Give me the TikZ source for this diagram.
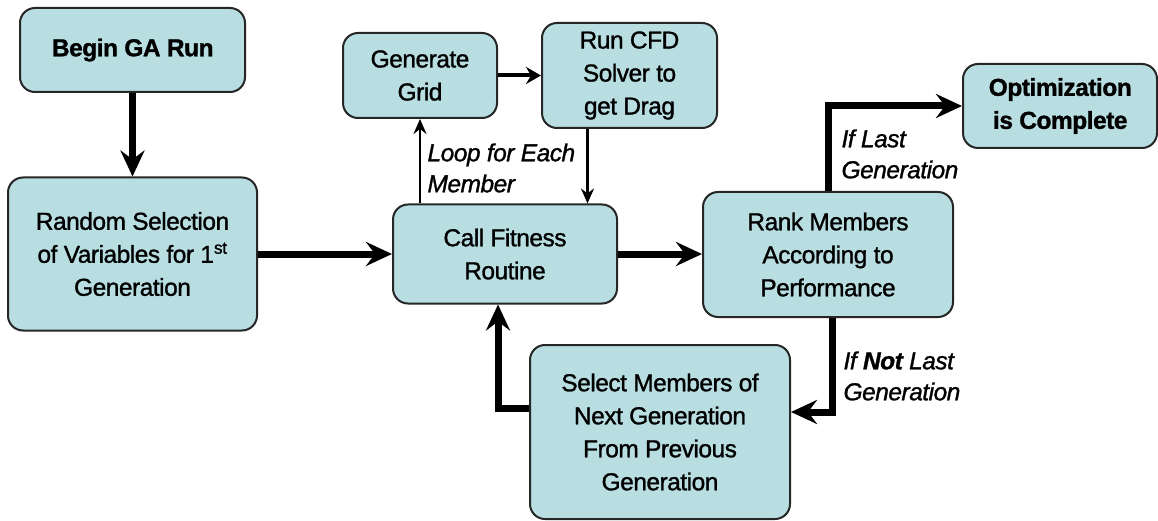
\documentclass[tikz,border=0pt]{standalone}
\usepackage{fontspec}
\setmainfont{Liberation Sans}[FakeBold=1.2, LetterSpace=-2]
\usepackage{xcolor}
\usetikzlibrary{arrows.meta,positioning,calc}

\definecolor{boxfill}{RGB}{184,222,226}

\begin{document}
\begin{tikzpicture}[x=1pt, y=-1pt,
  box/.style={draw=black!85, line width=2pt, rounded corners=15pt,
              fill=boxfill, align=center, inner sep=0pt,
              font=\fontsize{24.5}{33}\selectfont},
  arr/.style={-{Stealth[length=26pt, width=24pt, inset=9pt]}, line width=7pt},
  medarr/.style={-{Stealth[length=15pt, width=17pt, inset=5pt]}, line width=4pt},
  thinarr/.style={-{Stealth[length=15pt, width=13pt, inset=5pt]}, line width=2.5pt},
  lbl/.style={font=\fontsize{24.5}{31}\selectfont\itshape, align=left, anchor=west}
]

% canvas
\useasboundingbox[fill=white] (0,0) rectangle (1158,521);

% boxes
\node[box, minimum width=225pt, minimum height=84pt] (begin) at (132.5,50)
  {\textbf{Begin GA Run}};
\node[box, minimum width=249pt, minimum height=153pt] (random) at (132.5,254)
  {Random Selection\\of Variables for 1\textsuperscript{st}\\Generation};
\node[box, minimum width=154pt, minimum height=85pt] (grid) at (420,75.5)
  {Generate\\Grid};
\node[box, minimum width=175pt, minimum height=105pt] (cfd) at (629.5,75.5)
  {Run CFD\\Solver to\\get Drag};
\node[box, minimum width=224pt, minimum height=99pt] (call) at (505,254)
  {Call Fitness\\Routine};
\node[box, minimum width=250pt, minimum height=125pt] (rank) at (828,254.5)
  {Rank Members\\According to\\Performance};
\node[box, minimum width=194pt, minimum height=84pt] (opt) at (1060,106)
  {\textbf{Optimization}\\\textbf{is Complete}};
\node[box, minimum width=260pt, minimum height=174pt] (select) at (660,432)
  {Select Members of\\Next Generation\\From Previous\\Generation};

% main flow
\draw[arr] (begin) -- (random);
\draw[arr] (random.east) -- (random.east -| call.west);
\draw[arr] (call.east) -- (call.east -| rank.west);

% fitness loop
\draw[thinarr] (grid.south |- call.north) -- (grid.south);
\draw[medarr] (grid.east) -- (grid.east -| cfd.west);
\draw[thinarr] ([xshift=-42pt]cfd.south) -- ([xshift=-42pt]cfd.south |- call.north);

% generation loop
\draw[arr] (rank.north) |- (opt.west);
\draw[arr] ([xshift=4pt]rank.south) |- ([yshift=20pt]select.east);
\draw[arr] ([yshift=24pt]select.west) -| ([xshift=-7pt]call.south);

% labels
\node[lbl] (looplbl) at (424,168) {Loop for Each\\Member};
\node[lbl] (lastlbl) at (838,154) {If Last\\Generation};
\node[lbl] (notlbl) at (840,376) {If \textbf{Not} Last\\Generation};

\end{tikzpicture}
\end{document}
